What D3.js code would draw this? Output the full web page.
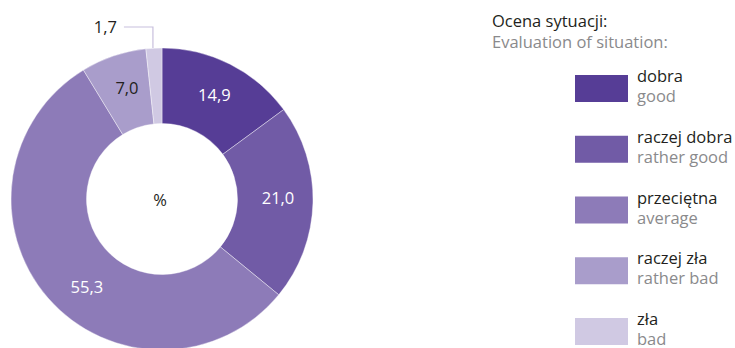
<!DOCTYPE html>
<html><head><meta charset="utf-8">
<script src="https://cdn.jsdelivr.net/npm/d3@7"></script>
<style>body{margin:0;background:#fff}svg{display:block}text{font-family:"Open Sans",sans-serif}</style>
</head><body><svg id="c" width="735" height="348"></svg>
<script>
const categoriesPl = ["dobra","raczej dobra","przeciętna","raczej zła","zła"];
const categoriesEn = ["good","rather good","average","rather bad","bad"];
const values = [14.9, 21.0, 55.3, 7.0, 1.7];
const labels = ["14,9","21,0","55,3","7,0","1,7"];
const colors = ["#563d96","#715ba6","#8d7bb8","#a99dcb","#d0c9e3"];

const svg = d3.select("#c");
const cx = 162, cy = 199, rOut = 151, rIn = 75.5;
const g = svg.append("g").attr("transform",`translate(${cx},${cy})`);
const pie = d3.pie().sort(null).value(d=>d);
const arcs = pie(values);
const arc = d3.arc().innerRadius(rIn).outerRadius(rOut);
g.selectAll("path").data(arcs).join("path")
  .attr("d",arc).attr("fill",(d,i)=>colors[i])
  .attr("stroke","#fff").attr("stroke-width",0.4);

const fs = 16.5;
const labelArc = d3.arc().innerRadius(116).outerRadius(116);
const angleShift = [0, -0.03, -0.15, 0.02, 0];
arcs.forEach((d,i)=>{
  if(i===4){
    const a = (d.startAngle+d.endAngle)/2;
    const x0 = Math.sin(a)*rOut - 1;
    g.append("path")
      .attr("d",`M${x0},${-rOut}V${-rOut-21}H${x0-29}`)
      .attr("fill","none").attr("stroke","#c8c0dd").attr("stroke-width",1.2);
    g.append("text").attr("x",x0-36).attr("y",-rOut-15)
      .attr("text-anchor","end").attr("font-size",fs).attr("fill","#231f20").text(labels[i]);
    return;
  }
  const m = (d.startAngle+d.endAngle)/2 + angleShift[i];
  const p = labelArc.centroid({startAngle:m,endAngle:m});
  g.append("text").attr("x",p[0]).attr("y",p[1]).attr("dy","0.35em")
    .attr("text-anchor","middle").attr("font-size",fs)
    .attr("fill", i===3 ? "#231f20" : "#fff").text(labels[i]);
});
g.append("text").attr("x",-2).attr("y",1).attr("dy","0.35em").attr("text-anchor","middle")
  .attr("font-size",fs).attr("fill","#231f20").text("%");

// legend
const lg = svg.append("g");
lg.append("text").attr("x",492).attr("y",27).attr("font-size",fs).attr("fill","#231f20").text("Ocena sytuacji:");
lg.append("text").attr("x",492).attr("y",48).attr("font-size",fs).attr("fill","#8a8a8c").text("Evaluation of situation:");
const ly = d3.scalePoint().domain(categoriesPl).range([75,318]);
categoriesPl.forEach((c,i)=>{
  const y = ly(c);
  lg.append("rect").attr("x",575).attr("y",y).attr("width",53).attr("height",27).attr("fill",colors[i]);
  lg.append("text").attr("x",637).attr("y",y+7).attr("font-size",fs).attr("fill","#231f20").text(c);
  lg.append("text").attr("x",637).attr("y",y+27).attr("font-size",fs).attr("fill","#8a8a8c").text(categoriesEn[i]);
});
</script></body></html>
